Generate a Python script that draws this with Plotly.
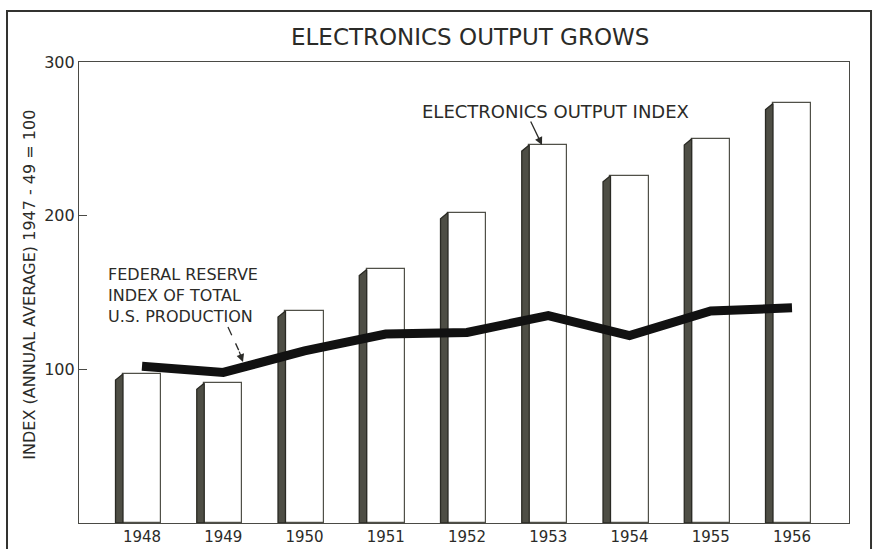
import plotly.graph_objects as go

# ---- data ----
years = [1948, 1949, 1950, 1951, 1952, 1953, 1954, 1955, 1956]
electronics_index = [97, 91, 138, 165, 202, 246, 226, 250, 273]
federal_reserve_index = [102, 98, 112, 123, 124, 135, 122, 138, 140]
year_labels = [str(y) for y in years]
y_tick_vals = [100, 200, 300]

TITLE = "ELECTRONICS OUTPUT GROWS"
Y_TITLE = "INDEX (ANNUAL AVERAGE) 1947 - 49 = 100"
BAR_LABEL = "ELECTRONICS OUTPUT INDEX"
LINE_LABEL = "FEDERAL RESERVE<br>INDEX OF TOTAL<br>U.S. PRODUCTION"

# ---- style ----
FONT = "DejaVu Sans"
INK = "#2b2b28"
FRAME = "#4a4a45"
face_w = 0.468      # width of white front face (x units)
side_w = 0.092      # width of dark side face
slant = 4.0         # drop of the side face's top (y units)

fig = go.Figure()

# white front faces
fig.add_trace(go.Bar(
    x=years, y=electronics_index, width=face_w,
    marker=dict(color="white", line=dict(color="#505048", width=1.2)),
    showlegend=False, hoverinfo="skip",
))

# dark side faces (built from the data values)
sx, sy = [], []
for yr, v in zip(years, electronics_index):
    xr = yr - face_w / 2
    xl = xr - side_w
    sx += [xl, xl, xr, xr, xl, None]
    sy += [0, v - slant, v, 0, 0, None]
fig.add_trace(go.Scatter(
    x=sx, y=sy, mode="lines", fill="toself",
    fillcolor="#4e4e45", line=dict(color="#2a2a24", width=1.3),
    showlegend=False, hoverinfo="skip",
))

# Federal Reserve line
fig.add_trace(go.Scatter(
    x=years, y=federal_reserve_index, mode="lines",
    line=dict(color="#111111", width=9),
    showlegend=False, hoverinfo="skip",
))

fig.update_layout(
    width=873, height=549,
    margin=dict(l=79, r=24, t=62, b=26, autoexpand=False),
    paper_bgcolor="white", plot_bgcolor="white",
    font=dict(family=FONT, color=INK),
    bargap=0,
    xaxis=dict(
        range=[1947.2246, 1956.7015], automargin=False,
        tickmode="array", tickvals=years, ticktext=year_labels,
        tickfont=dict(size=15, color=INK),
        showgrid=False, zeroline=False,
        showline=True, linecolor=FRAME, linewidth=1.2, mirror=True,
        ticks="",
    ),
    yaxis=dict(
        range=[0, 300], automargin=False,
        tickmode="array", tickvals=y_tick_vals,
        tickfont=dict(size=16, color=INK),
        showgrid=False, zeroline=False,
        showline=True, linecolor=FRAME, linewidth=1.2, mirror=True,
        ticks="inside", ticklen=8, tickcolor=FRAME, tickwidth=1.2,
    ),
)

annotations = [
    dict(text=TITLE, xref="paper", yref="paper", x=0.508, y=1.054,
         showarrow=False, font=dict(size=23, color=INK),
         xanchor="center", yanchor="middle"),
    dict(text=Y_TITLE, xref="paper", yref="paper", x=-0.0636, y=0.517,
         textangle=-90, showarrow=False, font=dict(size=16, color=INK),
         xanchor="center", yanchor="middle"),
    dict(text=BAR_LABEL, xref="x", yref="y", x=1953.083, y=268.1,
         showarrow=False, font=dict(size=18, color=INK),
         xanchor="center", yanchor="middle"),
    # arrow to 1953 bar
    dict(text="", xref="x", yref="y", x=1952.923, y=246,
         axref="x", ayref="y", ax=1952.775, ay=262.3,
         showarrow=True, arrowhead=2, arrowsize=1.2, arrowwidth=1.3,
         arrowcolor=INK),
    # arrow head for the dashed pointer
    dict(text="", xref="x", yref="y", x=1949.243, y=104.8,
         axref="x", ayref="y", ax=1949.19, ay=112.5,
         showarrow=True, arrowhead=2, arrowsize=1.2, arrowwidth=1.3,
         arrowcolor=INK),
    dict(text=LINE_LABEL, xref="x", yref="y", x=1947.557, y=148.0,
         showarrow=False, font=dict(size=16, color=INK),
         xanchor="left", yanchor="middle", align="left"),
]
fig.update_layout(annotations=annotations)

fig.add_shape(type="line", xref="x", yref="y",
              x0=1949.058, y0=127.5, x1=1949.19, y1=112.5,
              line=dict(color=INK, width=1.3, dash="dash"))
# outer frame
fig.add_shape(type="rect", xref="paper", yref="paper",
              x0=-0.0935, x1=1.0286, y0=-0.07, y1=1.1106,
              line=dict(color="#333330", width=2))

fig.write_html("out.html", config={"displayModeBar": False},
               post_script="document.body.style.margin='0';")
